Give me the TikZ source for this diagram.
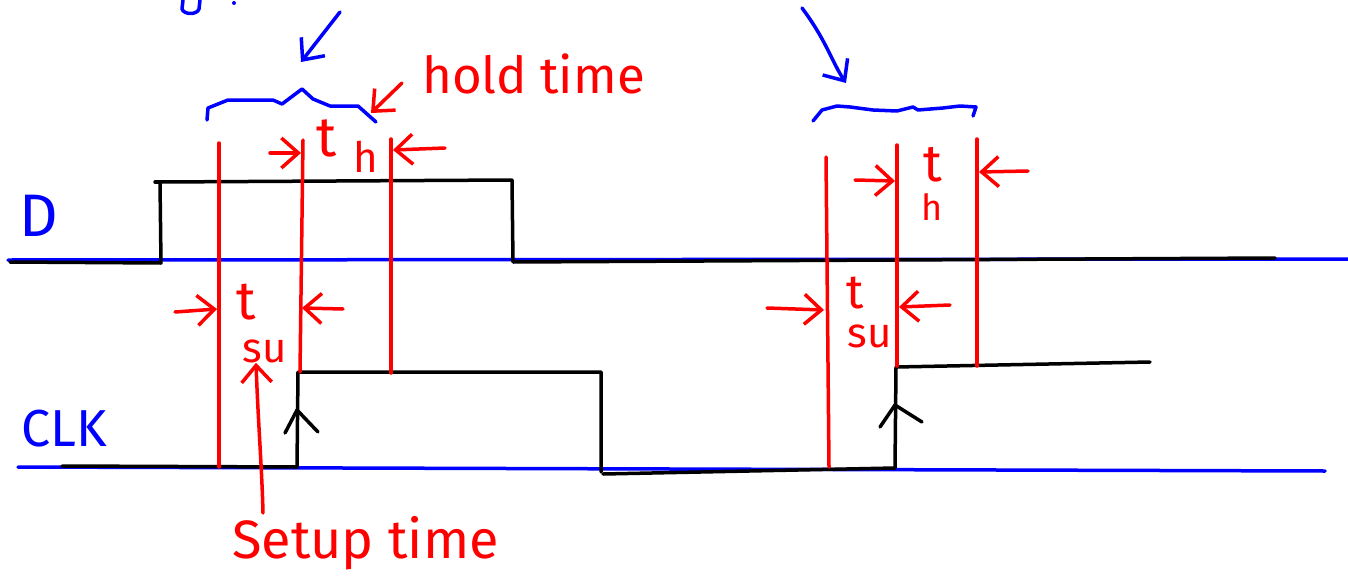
\documentclass[tikz,border=0pt]{standalone}
\usepackage{fontspec}
\setmainfont{Fira Sans}
\usetikzlibrary{arrows.meta}
\definecolor{penred}{RGB}{255,0,0}
\definecolor{penblue}{RGB}{0,0,255}
\begin{document}
\begin{tikzpicture}[x=1pt,y=-1pt,
  pen/.style={line width=3.5pt,line cap=round,line join=round},
  rail/.style={pen,draw=penblue},
  wave/.style={pen,draw=black},
  marker/.style={pen,draw=penred},
  barb/.style={-{Straight Barb[length=17pt,width=30pt]}},
  redlbl/.style={text=penred,inner sep=0pt},
  bluelbl/.style={text=penblue,inner sep=0pt},
]
\useasboundingbox (0,0) rectangle (1348,578);

% signal rails
\draw[rail] (8,260) -- (1348,259);
\draw[rail] (18,467) -- (1325,471);

% signal names
\node[bluelbl,font=\fontsize{60}{60}\selectfont] (dname) at (39,216) {D};
\node[bluelbl,font=\fontsize{52}{52}\selectfont] (clkname) at (64,429) {CLK};

% data waveform
\draw[wave] (10,262) -- (161,263) -- (160,182) -- (512,180) -- (513,262) -- (1275,258);
\draw[wave] (155,182) -- (160,182);

% clock waveform
\draw[wave] (62,466) -- (297,467) -- (298,372) -- (601,372) -- (601,472);
\draw[wave] (603,474) -- (895,468) -- (896,367) -- (1150,362);

% rising-edge marks
\draw[wave] (285,433) -- (297,410) -- (318,432);
\draw[wave] (880,427) -- (895,405) -- (922,422);

% timing markers, first edge
\draw[marker] (219,143) -- (219,467);
\draw[marker] (303,140) -- (300,372);
\draw[marker] (391,139) -- (391,373);
% timing markers, second edge
\draw[marker] (826,157) -- (829,467);
\draw[marker] (897,145) -- (897,366);
\draw[marker] (977,139) -- (977,366);

% hold window, first edge
\coordinate (ha1) at (270,153);  \coordinate (hb1) at (301,153);
\coordinate (ha2) at (445,148);  \coordinate (hb2) at (393,150);
\draw[marker,barb] (ha1) -- (hb1);
\draw[marker,barb] (ha2) -- (hb2);
\node[redlbl,font=\fontsize{56}{56}\selectfont] (th1) at (327,138) {t};
\node[redlbl,font=\fontsize{42}{42}\selectfont] (thh1) at (366,157) {h};

% setup window, first edge
\coordinate (sa1) at (175,312);  \coordinate (sb1) at (217,309);
\coordinate (sa2) at (343,309);  \coordinate (sb2) at (302,308);
\draw[marker,barb] (sa1) -- (sb1);
\draw[marker,barb] (sa2) -- (sb2);
\node[redlbl,font=\fontsize{54}{54}\selectfont] (ts1) at (246,302) {t};
\node[redlbl,font=\fontsize{42}{42}\selectfont] (tss1) at (265,351) {su};

% hold window, second edge
\coordinate (ha3) at (855,180);  \coordinate (hb3) at (895,181);
\coordinate (ha4) at (1028,171); \coordinate (hb4) at (979,172);
\draw[marker,barb] (ha3) -- (hb3);
\draw[marker,barb] (ha4) -- (hb4);
\node[redlbl,font=\fontsize{52}{52}\selectfont] (th2) at (933,165) {t};
\node[redlbl,font=\fontsize{36}{36}\selectfont] (thh2) at (932,207) {h};

% setup window, second edge
\coordinate (sa3) at (767,308);  \coordinate (sb3) at (824,310);
\coordinate (sa4) at (950,305);  \coordinate (sb4) at (899,307);
\draw[marker,barb] (sa3) -- (sb3);
\draw[marker,barb] (sa4) -- (sb4);
\node[redlbl,font=\fontsize{48}{48}\selectfont] (ts2) at (855,293) {t};
\node[redlbl,font=\fontsize{42}{42}\selectfont] (tss2) at (870,336) {su};

% captions
\node[redlbl,anchor=base west,font=\fontsize{51}{51}\selectfont] (holdlbl) at (422,93) {hold time};
\node[redlbl,anchor=base west,font=\fontsize{54}{54}\selectfont] (setuplbl) at (232,558) {Setup time};
\coordinate (holdfrom) at (402,83);
\coordinate (holdto) at (371,113);
\draw[marker,barb] (holdfrom) -- (holdto);
\coordinate (setupfrom) at (263,513);
\draw[marker,barb] (setupfrom) .. controls (262,470) and (258,420) .. (tss1.south -| 256,0);

% window braces
\draw[rail] (207,120) -- (208,108) -- (228,100) -- (273,100) -- (282,104) -- (302,89)
  -- (313,99) -- (330,106) -- (358,106) -- (376,122);
\draw[rail] (813,121) -- (822,110) -- (837,106) -- (850,107) -- (873,110) -- (897,111)
  -- (913,107) -- (918,110) -- (943,108) -- (960,106) -- (976,107) -- (973,116);

% pointers to the braces
\coordinate (pa) at (340,12);  \coordinate (pb) at (301,62);
\draw[rail,barb] (pa) -- (pb);
\coordinate (pc) at (802,8);   \coordinate (pd) at (846,83);
\draw[rail,barb] (pc) .. controls (826,40) and (832,62) .. (pd);

% caption running off the top edge
\draw[rail] (183,0) -- (182,9) .. controls (184,15) and (197,15) .. (199,9) -- (200,0);
\fill[penblue] (234,3) circle (2pt);
\end{tikzpicture}
\end{document}
